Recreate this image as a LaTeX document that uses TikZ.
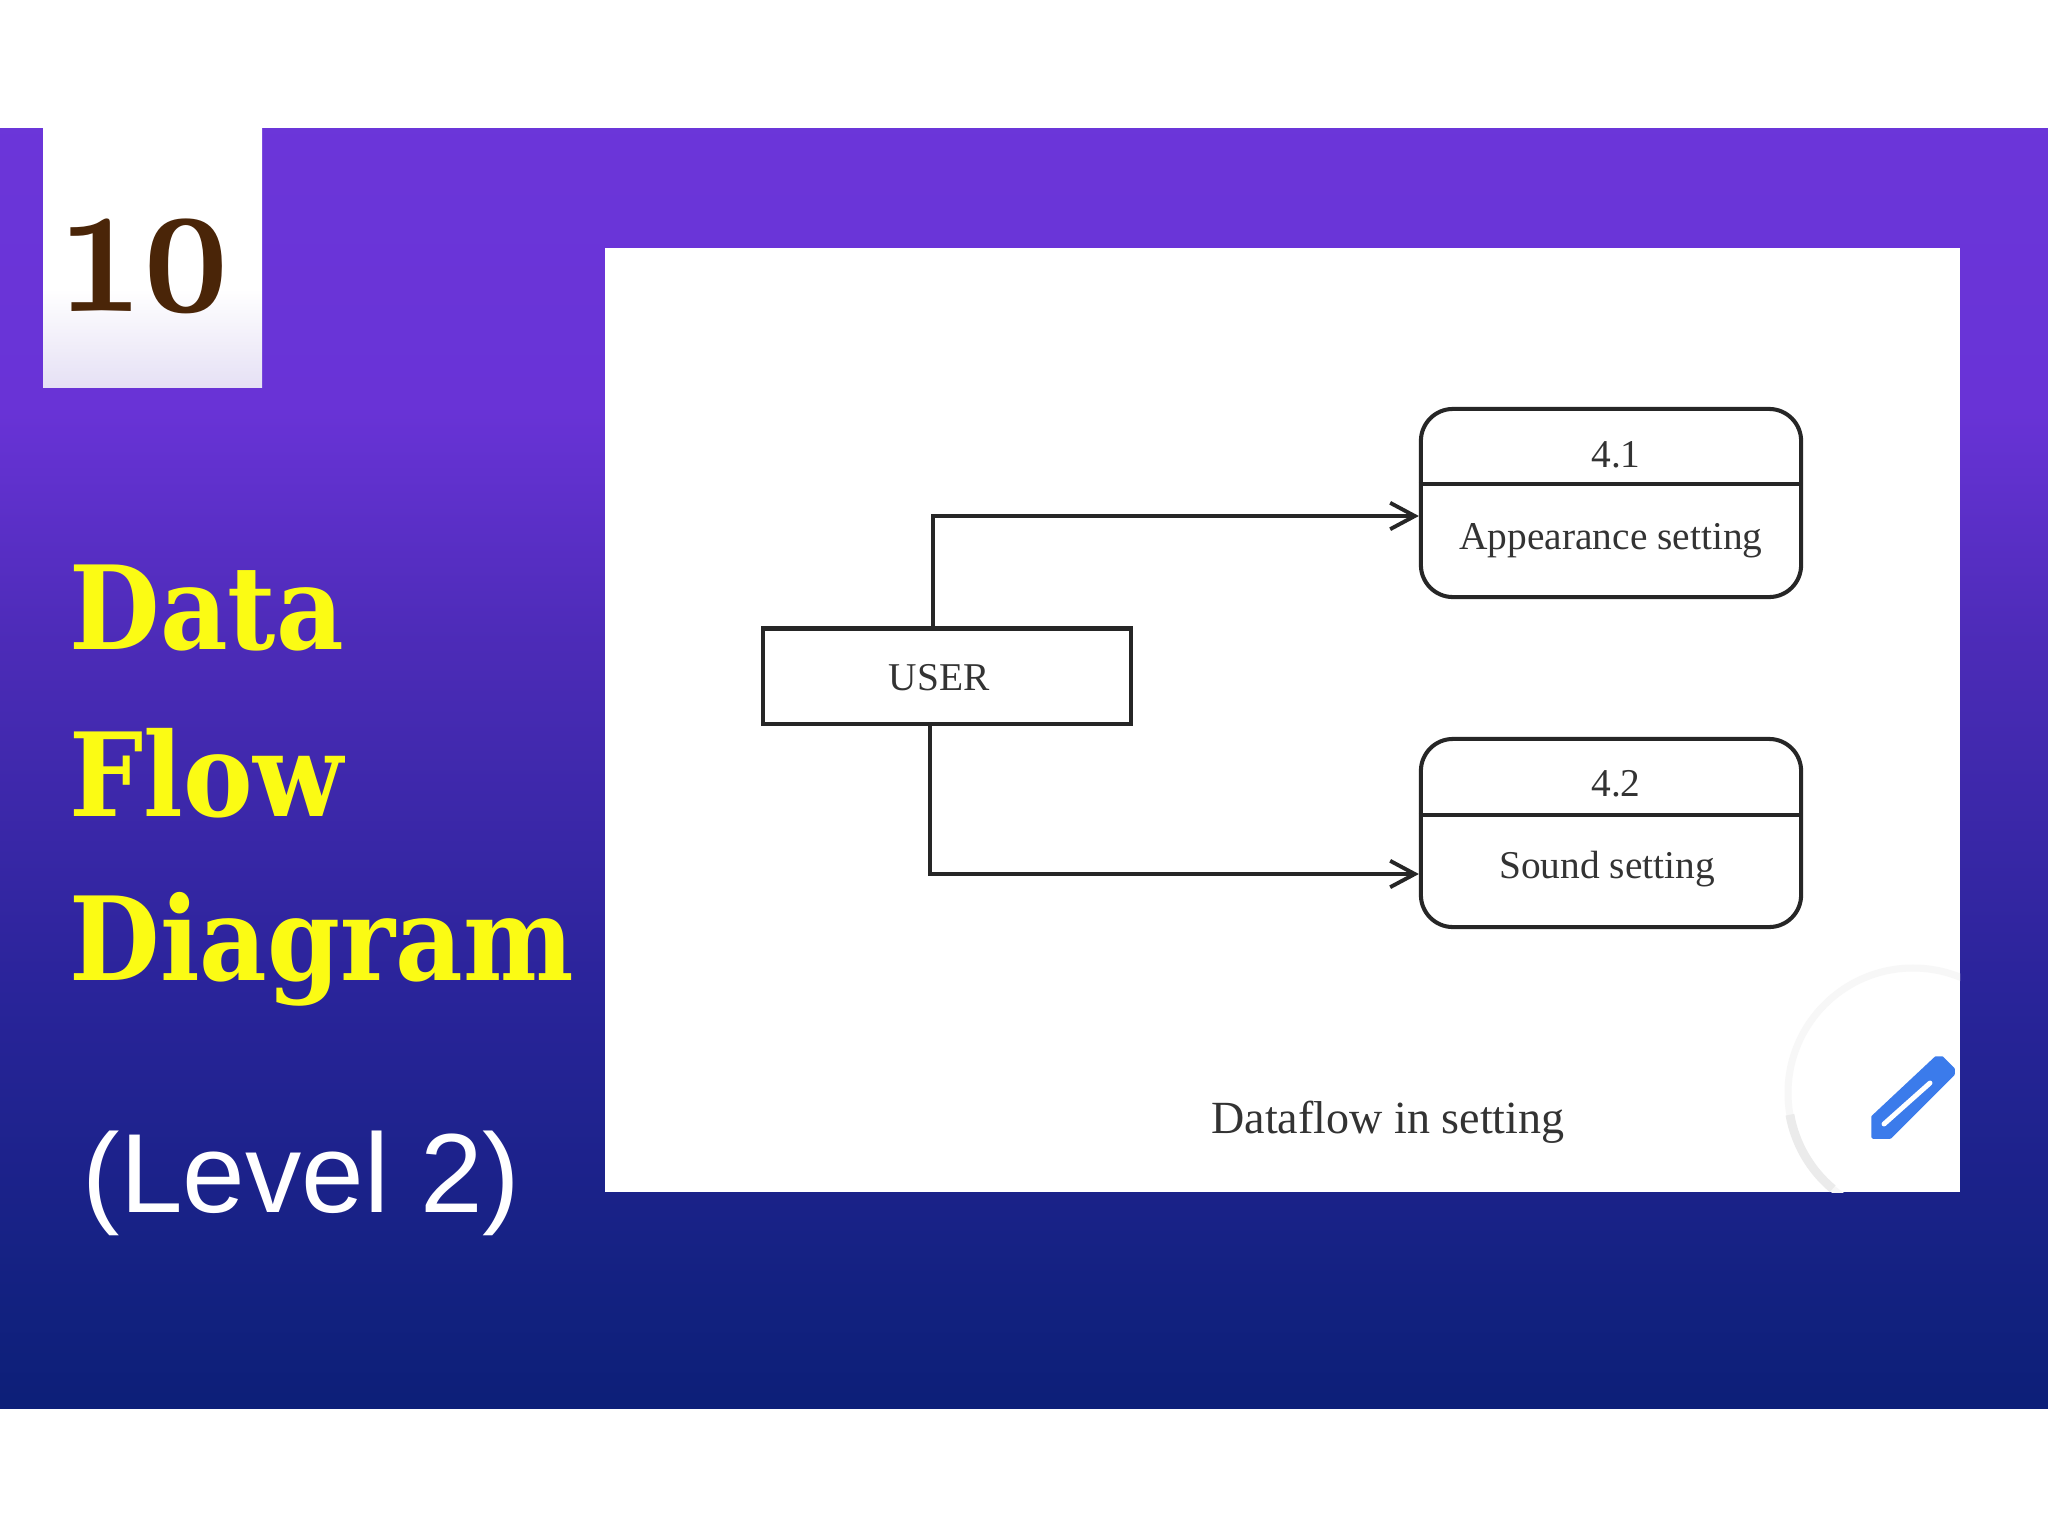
\documentclass[tikz,border=0pt]{standalone}
\usepackage{fontspec}
\usetikzlibrary{arrows.meta}
\setmainfont{Liberation Serif}
\newfontfamily\slabfont[FakeStretch=0.9]{DejaVu Serif}
\newfontfamily\numfont[Numbers=OldStyle,FakeStretch=0.76]{Latin Modern Roman}
\newfontfamily\levelfont{Liberation Sans}
\definecolor{numbrown}{HTML}{4A2508}
\definecolor{titleyellow}{HTML}{FBFB14}
\definecolor{penblue}{HTML}{3B7BEB}
\pgfdeclareverticalshading{bandshade}{100bp}{
  rgb(0bp)=(0.05,0.12,0.47);
  rgb(25bp)=(0.05,0.12,0.47);
  rgb(29bp)=(0.07,0.13,0.50);
  rgb(41bp)=(0.16,0.14,0.60);
  rgb(55bp)=(0.30,0.17,0.72);
  rgb(64bp)=(0.41,0.20,0.84);
  rgb(75bp)=(0.42,0.21,0.85);
  rgb(100bp)=(0.42,0.21,0.85)}
\pgfdeclareverticalshading{numshade}{100bp}{
  rgb(0bp)=(0.90,0.88,0.96);
  rgb(25bp)=(0.90,0.88,0.96);
  rgb(44bp)=(1,1,1);
  rgb(100bp)=(1,1,1)}
\tikzset{
  label text/.style={font=\fontsize{11.2}{13}\selectfont,text=black!80,inner sep=0pt},
  title text/.style={anchor=base west,inner sep=0pt,text=titleyellow,font=\slabfont\bfseries\fontsize{33}{36}\selectfont},
  user box/.style={draw=black!85,line width=1.15pt,minimum width=3.68cm,minimum height=0.95cm,inner sep=0pt},
  proc box/.style={draw=black!85,line width=1.15pt,rounded corners=0.32cm,minimum width=3.8cm,minimum height=1.88cm,inner sep=0pt},
  flow/.style={draw=black!85,line width=1.1pt,-{Straight Barb[length=7pt,width=7.5pt,line width=1.1pt]}},
  divider/.style={draw=black!85,line width=1.15pt}
}
\begin{document}
\begin{tikzpicture}[x=0.01cm,y=-0.01cm]
\useasboundingbox (0,0) rectangle (2048,1536);
\fill[white] (0,0) rectangle (2048,1536);
\shade[shading=bandshade] (0,128) rectangle (2048,1408);
\shade[shading=numshade] (43,128) rectangle (262,387);
\fill[white] (605,248) rectangle (1960,1192);

\begin{scope}
\clip (605,248) rectangle (1960,1192);
\draw[black!3,line width=2pt] (1913,1093) circle [radius=125];
\draw[black!8,line width=2.5pt] (1913,1093) ++(130:125) arc [start angle=130,end angle=170,radius=125];
\end{scope}

\filldraw[penblue,line width=1pt,line join=round] (1873,1117) -- (1873,1137) -- (1890,1137) -- (1953,1074) -- (1953,1069) -- (1942,1058) -- (1936,1058) -- cycle;
\draw[white,line width=1.4pt,line cap=round] (1884,1124) -- (1930,1083);

\node[inner sep=0pt,anchor=base west,text=numbrown,font=\numfont\bfseries\fontsize{57}{60}\selectfont] (num) at (64,311) {10};
\node[title text] (data) at (69,649) {Data};
\node[title text] (flowword) at (69,816) {Flow};
\node[title text] (diagram) at (69,980) {Diagram};
\node[anchor=base west,inner sep=0pt,text=white,font=\levelfont\fontsize{32}{35}\selectfont] (level) at (82,1212) {(Level 2)};

\node[user box] (user) at (947,676) {};
\node[label text] (userlabel) at (939,678) {USER};

\node[proc box] (appear) at (1611,503) {};
\node[label text] (appearnum) at (1616,455) {4.1};
\node[label text] (appeartext) at (1611,541) {Appearance setting};
\coordinate (appearcut) at (1611,484);
\draw[divider] (appear.west |- appearcut) -- (appear.east |- appearcut);

\node[proc box] (sound) at (1611,833) {};
\node[label text] (soundnum) at (1616,784) {4.2};
\node[label text] (soundtext) at (1607,869) {Sound setting};
\coordinate (soundcut) at (1611,815);
\draw[divider] (sound.west |- soundcut) -- (sound.east |- soundcut);

\coordinate (upbend) at (933,516);
\coordinate (downbend) at (930,874);
\draw[flow] (user.north -| upbend) -- (upbend) -- (appear.west |- upbend);
\draw[flow] (user.south -| downbend) -- (downbend) -- (sound.west |- downbend);

\node[label text,font=\fontsize{13.1}{15}\selectfont] (caption) at (1388,1122) {Dataflow in setting};
\end{tikzpicture}
\end{document}
